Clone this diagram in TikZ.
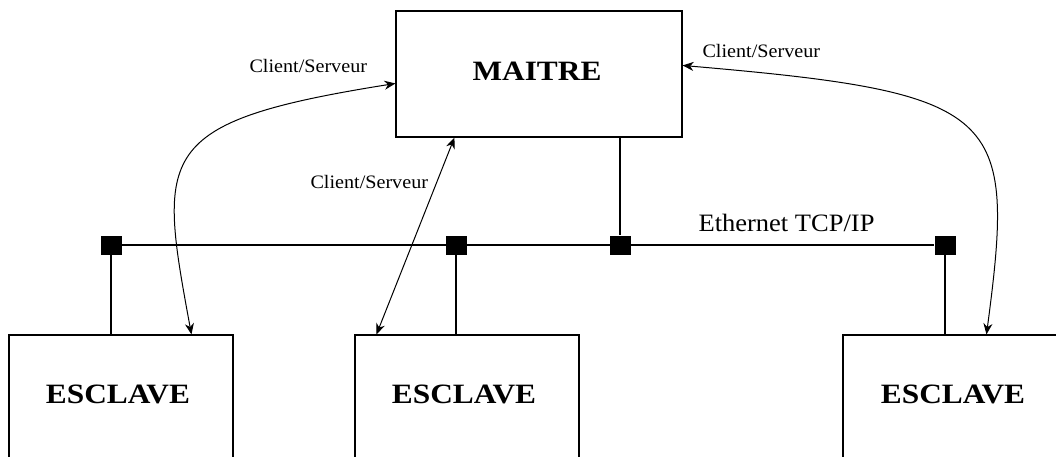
\documentclass[tikz,border=0pt]{standalone}
\usepackage{fontspec}
\setmainfont{Liberation Serif}
\newfontfamily\boxfont[FakeStretch=1.12]{Liberation Serif}
\newfontfamily\lblfont[FakeStretch=1.06]{Liberation Serif}
\usetikzlibrary{arrows.meta}
\begin{document}
\begin{tikzpicture}[x=1pt,y=-1pt,
  line width=1.1pt,
  mbox/.style={draw, rectangle, inner sep=0pt, minimum width=286pt, minimum height=126pt},
  ebox/.style={draw, rectangle, inner sep=0pt, minimum width=224pt, minimum height=140pt},
  bigtxt/.style={inner sep=0pt, font=\boxfont\bfseries\fontsize{28}{30}\selectfont},
  lbl/.style={inner sep=0pt, anchor=base west, font=\lblfont\fontsize{19}{21}\selectfont},
  netlbl/.style={inner sep=0pt, anchor=base west, font=\lblfont\fontsize{25}{27}\selectfont},
  tap/.style={fill=black, draw=none, rectangle, inner sep=0pt, minimum width=21pt, minimum height=19pt},
  link/.style={{Stealth[length=11pt,width=9pt,inset=3.5pt]}-{Stealth[length=11pt,width=9pt,inset=3.5pt]}, line width=1pt}
]
\useasboundingbox (0,0) rectangle (1056,457);
\clip (0,0) rectangle (1056,457);

% boxes
\node[mbox] (maitre) at (539,74) {};
\node[bigtxt] (tm) at (537,71) {MAITRE};
\node[ebox] (esc1) at (121,405) {};
\node[ebox] (esc2) at (467,405) {};
\node[ebox] (esc3) at (955,405) {};
\node[bigtxt] (te1) at (118,394) {ESCLAVE};
\node[bigtxt] (te2) at (464,394) {ESCLAVE};
\node[bigtxt] (te3) at (953,394) {ESCLAVE};

% taps on the bus
\node[tap] (s1) at (111,245) {};
\node[tap] (s2) at (456,245) {};
\node[tap] (s3) at (620,245) {};
\node[tap] (s4) at (945,245) {};

% bus and drops
\draw (s1) -- (s4);
\draw (s1) -- (s1 |- esc1.north);
\draw (s2) -- (s2 |- esc2.north);
\draw (s4) -- (s4 |- esc3.north);
\draw (s3 |- maitre.south) -- (s3);

% client/server links
\coordinate (a1) at ([yshift=-73pt]maitre.north west);
\coordinate (b1) at ([xshift=183pt]esc1.north west);
\draw[link] (a1) .. controls (153,122) and (158,153) .. (b1);

\coordinate (a2) at ([xshift=59pt]maitre.south west);
\coordinate (b2) at ([xshift=22pt]esc2.north west);
\draw[link] (a2) -- (b2);

\coordinate (a3) at ([yshift=-55pt]maitre.north east);
\coordinate (b3) at ([xshift=144pt]esc3.north west);
\draw[link] (a3) .. controls (1003,93) and (1016,112) .. (b3);

% labels
\node[lbl] (l1) at (249,73) {Client/Serveur};
\node[lbl] (l2) at (310,189) {Client/Serveur};
\node[lbl] (l3) at (702,58) {Client/Serveur};
\node[netlbl] (eth) at (698,231) {Ethernet TCP/IP};
\end{tikzpicture}
\end{document}
